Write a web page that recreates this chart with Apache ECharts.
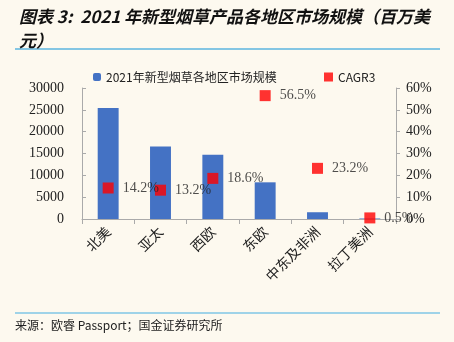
<!DOCTYPE html>
<html><head><meta charset="utf-8">
<script src="https://cdn.jsdelivr.net/npm/echarts@6/dist/echarts.min.js"></script>
<style>html,body{margin:0;padding:0;background:#FDF9EF;}#c{width:454px;height:342px;}</style>
</head><body><div id="c"></div>
<script>
var categories = ['北美','亚太','西欧','东欧','中东及非洲','拉丁美洲'];
var marketSize = [25400, 16600, 14700, 8400, 1550, 120];
var cagr = [14.2, 13.2, 18.6, 56.5, 23.2, 0.5];
var barName = '2021年新型烟草各地区市场规模';
var cagrName = 'CAGR3';
var titleText = '图表 3:  2021 年新型烟草产品各地区市场规模（百万美\n元）';
var sourceText = '来源：欧睿 Passport；国金证券研究所';

var chart = echarts.init(document.getElementById('c'), null, {renderer:'canvas'});
var serif = '"Liberation Serif","DejaVu Serif",serif';
var cjk = '"Noto Sans CJK SC",sans-serif';
chart.setOption({
  backgroundColor:'#FDF9EF',
  animation:false,
  title:{text:titleText,left:14,top:0,textStyle:{fontSize:17,fontStyle:'italic',fontWeight:'bold',color:'#111',fontFamily:cjk,lineHeight:24}},
  graphic:[
    {type:'line',shape:{x1:15,y1:49,x2:440,y2:49},style:{stroke:'#5BB4DF',lineWidth:1.5}},
    {type:'line',shape:{x1:15,y1:313,x2:440,y2:313},style:{stroke:'#7FC6E6',lineWidth:1.5}},
    {type:'text',left:15,top:319,style:{text:sourceText,fontSize:12,fill:'#222',fontFamily:cjk}}
  ],
  legend:[
    {data:[barName],left:88,top:66,itemWidth:8,itemHeight:8,itemGap:4,textStyle:{fontSize:12,color:'#222',fontFamily:cjk}},
    {data:[cagrName],left:319,top:66,itemWidth:9,itemHeight:9,itemGap:4,textStyle:{fontSize:12,color:'#222',fontFamily:cjk}}
  ],
  grid:{left:82,right:58,top:88,bottom:123},
  xAxis:{type:'category',data:categories,
    axisLine:{lineStyle:{color:'#AAAAAA'}},
    axisTick:{show:true,alignWithLabel:false,lineStyle:{color:'#AAAAAA'}},
    axisLabel:{rotate:45,fontSize:14,color:'#222',fontFamily:cjk,margin:10,interval:0}},
  yAxis:[
    {type:'value',min:0,max:30000,interval:5000,
     axisLine:{show:true,lineStyle:{color:'#AAAAAA'}},
     axisTick:{show:true,inside:true,length:4,lineStyle:{color:'#AAAAAA'}},
     splitLine:{show:false},
     axisLabel:{fontSize:14,color:'#222',fontFamily:serif,margin:18,formatter:function(v){return String(v);}}},
    {type:'value',min:0,max:60,interval:10,
     axisLine:{show:true,lineStyle:{color:'#AAAAAA'}},
     axisTick:{show:true,length:4,lineStyle:{color:'#AAAAAA'}},
     splitLine:{show:false},
     axisLabel:{fontSize:14,color:'#222',fontFamily:serif,margin:10,formatter:'{value}%'}}
  ],
  series:[
    {name:barName,type:'bar',data:marketSize,barWidth:'40%',itemStyle:{color:'#4472C4'}},
    {name:cagrName,type:'scatter',yAxisIndex:1,data:cagr,symbol:'rect',symbolSize:11,itemStyle:{color:'#FF0000'},
     label:{show:true,position:'right',distance:9,fontSize:14,color:'#222',fontFamily:serif,formatter:function(p){return p.value.toFixed(1)+'%';}}}
  ]
});
</script></body></html>
